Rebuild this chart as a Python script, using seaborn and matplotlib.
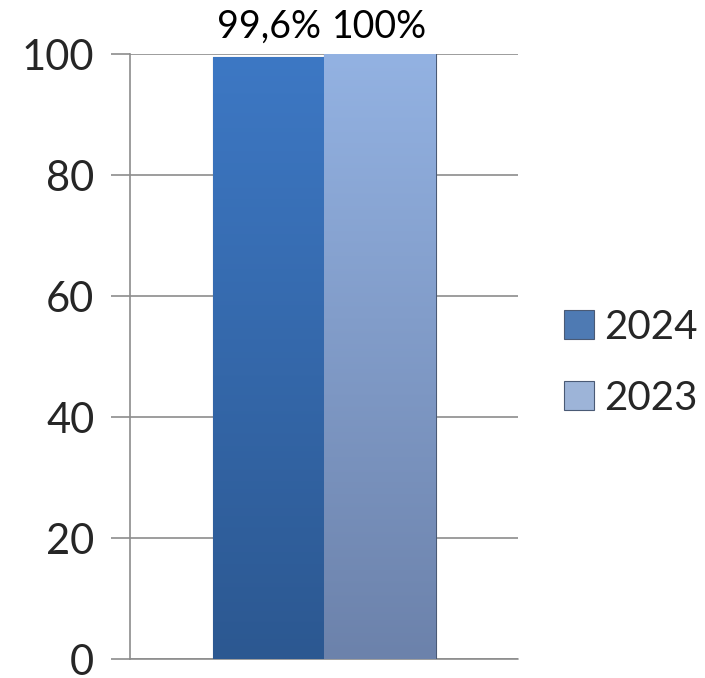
import pandas as pd
import seaborn as sns
import matplotlib.pyplot as plt
import numpy as np
from matplotlib.colors import LinearSegmentedColormap

# values
years = ['2024', '2023']
values = [99.6, 100]
labels = ['99,6%', '100%']
top_colors = ['#3d78c4', '#93b2e2']
bottom_colors = ['#2c5891', '#6c82ab']

df = pd.DataFrame({'group': ['a', 'a'], 'year': years, 'value': values})

sns.set_style('white')
plt.rcParams['font.family'] = ['Lato', 'DejaVu Sans']

fig, ax = plt.subplots(figsize=(7.05, 6.78), dpi=100)
fig.subplots_adjust(left=0.185, right=0.735, top=0.92, bottom=0.028)

sns.barplot(data=df, x='group', y='value', hue='year', hue_order=years,
            palette=dict(zip(years, top_colors)), width=0.575,
            edgecolor='#4a5a75', linewidth=0.8, ax=ax, legend=True)

# vertical gradient inside each bar
bars = [p for p in ax.patches if p.get_height() > 0]
for bar, c_top, c_bot in zip(bars, top_colors, bottom_colors):
    cmap = LinearSegmentedColormap.from_list('g', [c_bot, c_top])
    x0, w, h = bar.get_x(), bar.get_width(), bar.get_height()
    grad = np.linspace(0, 1, 256).reshape(-1, 1)
    im = ax.imshow(grad, cmap=cmap, aspect='auto', origin='lower',
                   extent=[x0, x0 + w, 0, h], zorder=bar.get_zorder() + 0.1)
    im.set_clip_path(bar)

for bar, lab in zip(bars, labels):
    ax.text(bar.get_x() + bar.get_width() / 2, 101.6, lab,
            ha='center', va='bottom', fontsize=27, color='black')

ax.set_xlim(-0.5, 0.5)
ax.set_ylim(0, 100)
ax.set_yticks(range(0, 101, 20))
ax.yaxis.grid(True, color='#8c8c8c', linewidth=1.2)
ax.set_axisbelow(True)
ax.set_xticks([])
ax.set_xlabel('')
ax.set_ylabel('')
ax.tick_params(axis='y', labelsize=30, length=14, color='#8c8c8c', width=1.2, left=True, pad=12)
for s in ['top', 'right', 'bottom']:
    ax.spines[s].set_visible(False)
ax.spines['left'].set_color('#8c8c8c')
ax.spines['left'].set_linewidth(1.2)
ax.axhline(0, color='#8c8c8c', linewidth=1.2, clip_on=False, zorder=0)

handles, _ = ax.get_legend_handles_labels()
ax.legend(handles, years, loc='center left', bbox_to_anchor=(1.077, 0.49),
          frameon=False, fontsize=29, handlelength=0.75, handleheight=0.75,
          handletextpad=0.25, labelspacing=0.85, borderaxespad=0)

plt.savefig('out.png', dpi=100)
